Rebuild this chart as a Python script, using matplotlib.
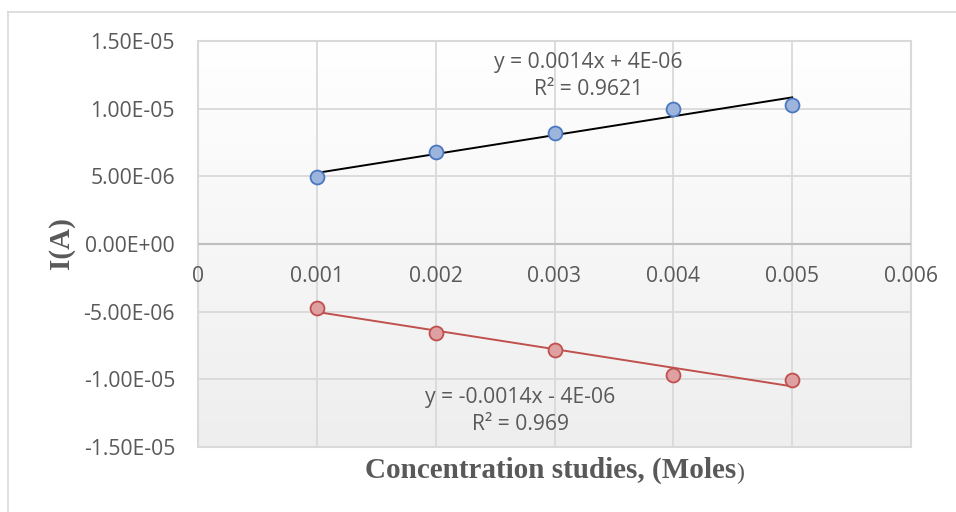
import numpy as np
from matplotlib import pyplot as plt
from matplotlib.lines import Line2D
from matplotlib.patches import Rectangle
from matplotlib.colors import LinearSegmentedColormap

# concentration (Moles) and current (A)
conc = [0.001, 0.002, 0.003, 0.004, 0.005]
i_anodic = [4.93e-6, 6.79e-6, 8.20e-6, 1.00e-5, 1.03e-5]
i_cathodic = [-4.75e-6, -6.55e-6, -7.8e-6, -9.7e-6, -1.005e-5]

xticks = [0, 0.001, 0.002, 0.003, 0.004, 0.005, 0.006]
xticklabels = ['0', '0.001', '0.002', '0.003', '0.004', '0.005', '0.006']
yticks = [-1.5e-5, -1e-5, -5e-6, 0, 5e-6, 1e-5, 1.5e-5]
yticklabels = ['-1.50E-05', '-1.00E-05', '-5.00E-06', '0.00E+00', '5.00E-06', '1.00E-05', '1.50E-05']

eq_top = 'y = 0.0014x + 4E-06\nR² = 0.9621'
eq_bot = 'y = -0.0014x - 4E-06\nR² = 0.969'

grey = '#595959'
gridc = '#d9d9d9'
fs = 15.2
plt.rcParams['font.family'] = ['Open Sans', 'DejaVu Sans']

fig = plt.figure(figsize=(9.56, 5.12), dpi=100)
W, H = 956, 512
ax = fig.add_axes([198 / W, 1 - 447 / H, (911 - 198) / W, (447 - 41) / H])
ax.set_xlim(0, 0.006)
ax.set_ylim(-1.5e-5, 1.5e-5)

# plot area gradient
grad = np.linspace(0, 1, 256).reshape(-1, 1)
cm = LinearSegmentedColormap.from_list('g', ['#ffffff', '#eeeeee'])
ax.imshow(grad, cmap=cm, extent=[0, 0.006, -1.5e-5, 1.5e-5], aspect='auto', zorder=0, origin='upper')

for s in ax.spines.values():
    s.set_visible(False)
ax.add_patch(Rectangle((0, -1.5e-5), 0.006, 3e-5, fill=False, ec=gridc, lw=1.5, zorder=1, clip_on=False))
for x in xticks[1:-1]:
    ax.axvline(x, color=gridc, lw=1.3, zorder=1)
for y in yticks[1:-1]:
    ax.axhline(y, color=gridc, lw=1.3, zorder=1)
ax.axhline(0, color='#bfbfbf', lw=1.5, zorder=1)

ax.set_xticks([])
ax.set_yticks(yticks)
ax.set_yticklabels(yticklabels, color=grey, fontsize=fs)
ax.tick_params(axis='y', length=0, pad=16.5)
for x, lab in zip(xticks, xticklabels):
    ax.annotate(lab, (x, 0), xytext=(0, -23.5), textcoords='offset points',
                ha='center', va='center', color=grey, fontsize=fs)

# series + linear trendlines
p1 = np.polyfit(conc, i_anodic, 1)
p2 = np.polyfit(conc, i_cathodic, 1)
xs = np.array([conc[0], conc[-1]])
ax.plot(xs, np.polyval(p1, xs), color='black', lw=1.4, zorder=3)
ax.plot(xs, np.polyval(p2, xs), color='#c0504d', lw=1.4, zorder=3)
ax.plot(conc, i_anodic, 'o', ms=10, mfc='#9db4dc', mec='#4a78c0', mew=1.3, zorder=4)
ax.plot(conc, i_cathodic, 'o', ms=10, mfc='#dea0a0', mec='#c0504d', mew=1.3, zorder=4)

ax.text(0.003282, 1.241e-5, eq_top, ha='center', va='center', color=grey, fontsize=fs, linespacing=1.33)
ax.text(0.00271, -1.234e-5, eq_bot, ha='center', va='center', color=grey, fontsize=fs, linespacing=1.33)

# x title: bold text, closing bracket regular and smaller as in the source
xt = fig.text(365 / W, 1 - 470 / H, 'Concentration studies, (Moles', ha='left', va='center',
              fontsize=21, fontweight='bold', family='Liberation Serif', color=grey)
ax.annotate(')', xy=(1, 0), xycoords=xt, ha='left', va='bottom', fontsize=17,
            family='Liberation Serif', color=grey, annotation_clip=False)
fig.text(61 / W, 1 - 243 / H, 'I(A)', ha='center', va='center', rotation=90,
         fontsize=21, fontweight='bold', family='Liberation Serif', color=grey)

# chart border
fig.add_artist(Line2D([8 / W, 1], [1 - 12 / H, 1 - 12 / H], color='#d9d9d9', lw=1.2))
fig.add_artist(Line2D([8 / W, 8 / W], [1 - 12 / H, 0], color='#d9d9d9', lw=1.2))

fig.savefig('out.png', dpi=100)
